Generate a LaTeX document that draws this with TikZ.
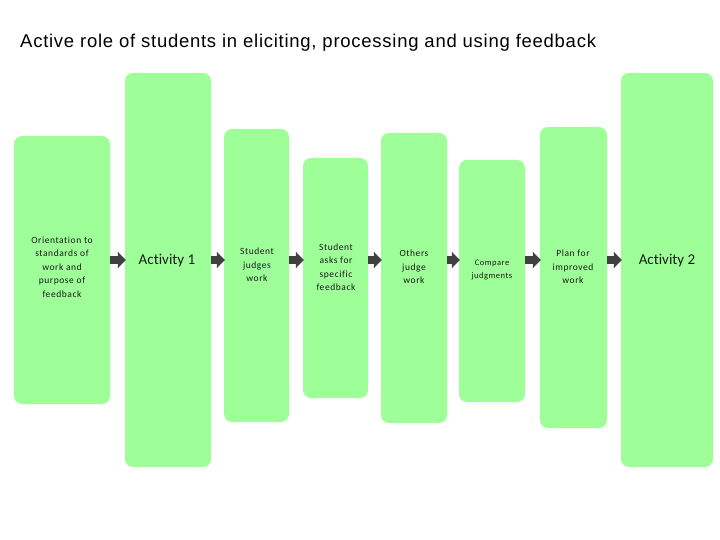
\documentclass[tikz,border=0pt]{standalone}
\usepackage{fontspec}
\setmainfont{Liberation Sans}
\newfontfamily\titlefont[LetterSpace=4]{Liberation Sans}
\newfontfamily\carl[LetterSpace=6,Ligatures=NoCommon]{Carlito}
\newfontfamily\carlA[Ligatures=NoCommon]{Carlito}
\usetikzlibrary{arrows.meta}
\definecolor{boxgreen}{RGB}{158,255,152}
\definecolor{arrowgray}{RGB}{64,64,64}
\tikzset{
  stage/.style={fill=boxgreen, draw=none, rounded corners=8pt, inner sep=0pt},
  lbl/.style={align=center, text=black!90, font=\carl\fontsize{9.5}{13.5}\selectfont},
  biglbl/.style={align=center, text=black!90, font=\carlA\fontsize{15}{17}\selectfont},
  flow/.style={draw=arrowgray, line width=8pt,
    -{Triangle[length=8pt,width=16pt]}, shorten <=-0.5pt, shorten >=-1pt}
}
\newcommand{\stagebox}[5]{%
  \node[stage, minimum width=#4-#2, minimum height=#5-#3] (#1) at ({(#2+#4)/2},{(#3+#5)/2}) {};}
\begin{document}
\begin{tikzpicture}[x=1pt,y=-1pt]
\useasboundingbox (0,0) rectangle (720,540);
\node[anchor=base west, font=\titlefont\fontsize{18.5}{21}\selectfont, inner sep=0pt] (title) at (20,48)
  {Active role of students in eliciting, processing and using feedback};
\stagebox{b1}{14}{136}{110}{404}
\stagebox{b2}{125}{73}{211}{467}
\stagebox{b3}{224}{129}{289}{422}
\stagebox{b4}{303}{158}{368}{398}
\stagebox{b5}{381}{133}{447}{423}
\stagebox{b6}{459}{160}{525}{402}
\stagebox{b7}{540}{127}{607}{428}
\stagebox{b8}{621}{73}{713}{467}
\node[lbl] (t1) at (62,267) {Orientation to\\standards of\\work and\\purpose of\\feedback};
\node[biglbl] (t2) at (167,261) {Activity 1};
\node[lbl] (t3) at (257,265) {Student\\judges\\work};
\node[lbl] (t4) at (336,267) {Student\\asks for\\specific\\feedback};
\node[lbl] (t5) at (414,267) {Others\\judge\\work};
\node[lbl, font=\carl\fontsize{8.5}{13}\selectfont] (t6) at (492,269.5) {Compare\\judgments};
\node[lbl] (t7) at (573,267) {Plan for\\improved\\work};
\node[biglbl] (t8) at (667,261) {Activity 2};
\coordinate (ay) at (0,260);
\foreach \a/\b in {b1/b2,b2/b3,b3/b4,b4/b5,b5/b6,b6/b7,b7/b8}
  \draw[flow] (\a.east |- ay) -- (\b.west |- ay);
\end{tikzpicture}
\end{document}
